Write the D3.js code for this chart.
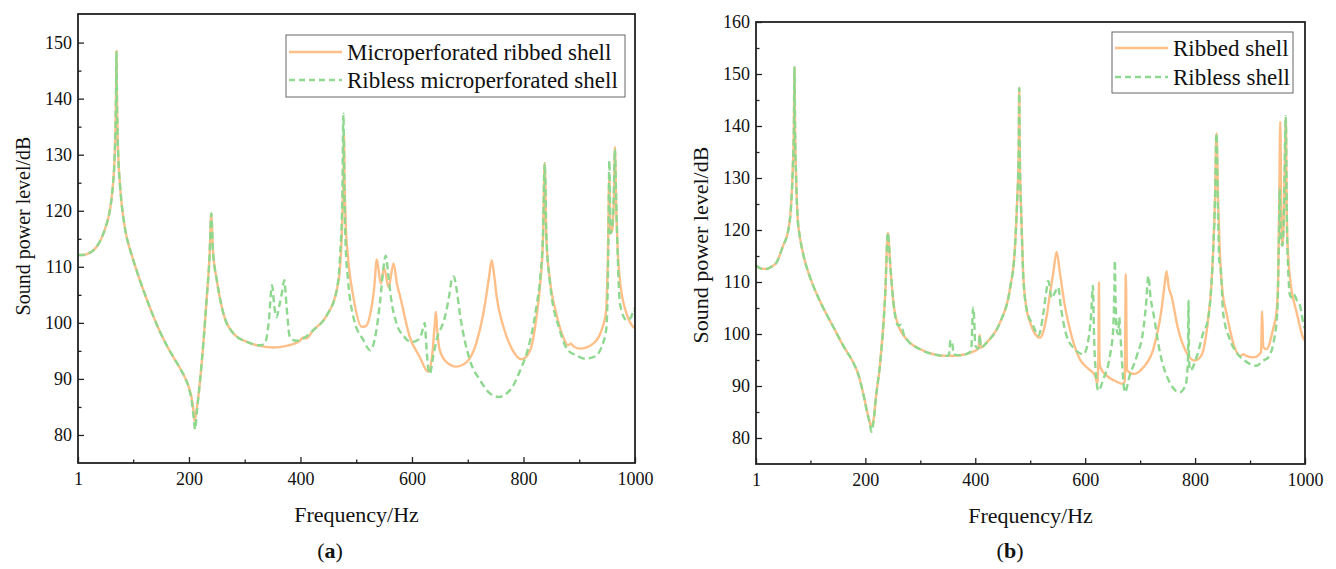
<!DOCTYPE html>
<html>
<head>
<meta charset="utf-8">
<script src="https://cdn.jsdelivr.net/npm/d3@7"></script>
<style>
    body { margin: 0; background: #fff; }
    svg text { font-family: "Liberation Serif", "Times New Roman", serif; fill: #111; }
</style>
</head>
<body>
<svg id="chart" width="1336" height="569"></svg>
<script>
// [frequency Hz, sound power level dB]

// (a) microperforated ribbed shell
const ribbedA = [
    [1,112.1],[10,112.1],[20,112.4],[28,112.9],[36,113.8],[44,115.3],[50,116.9],[56,119],[61,122],[64,125],
    [66.5,129],[68.3,135],[69.3,141],[70,148.5],[70.7,141],[71.7,135],[73.5,129],[76,125],[79,121.5],[83,118.3],
    [88,115.4],[94,113.2],[103,110.3],[112,107.6],[124,104.3],[136,101.2],[148,98.4],[160,96],[172,93.9],[184,91.9],
    [194,90],[200,88.5],[205,86.5],[208,84.5],[210,82.5],[213,84],[220,89.8],[232,104.6],[237,112],[240,119.5],
    [243,113],[250,107.6],[262,101.6],[280,98.1],[304,96.6],[327,95.9],[351,95.6],[375,95.9],[399,96.8],[405,97.4],
    [410,97.2],[423,98.7],[447,101.3],[465,105.8],[471,110],[475,118],[477,126],[478,134],[479,126],[481,118],
    [485,112],[495,104.6],[510,99.3],[517,99.4],[525,101.5],[532,106],[537,111.3],[544,107],[550,109.8],[558,106.4],
    [567,110.6],[573,107],[579,104.6],[596,97.5],[614,93.9],[629,91.3],[636,94],[641,100],[643,102],[645,99],
    [650,95.1],[662,93],[679,92.2],[698,93],[716,96.6],[731,103.4],[738,108],[743,111.2],[748,108],[752,104.6],
    [764,99.3],[779,95.4],[797,93.5],[812,95.1],[824,101.6],[830,107],[835,115],[838,128.5],[841,115],[847,108],
    [859,101.6],[871,97.5],[880,96],[885,96.3],[890,95.8],[901,95.4],[925,96.3],[940,98.7],[948,102],[951,110],
    [954,126],[956,116],[959,116.5],[962,122],[964,131.4],[966,122],[969,113],[973,107.6],[985,101.6],[1000,99]
];
// (a) ribless microperforated shell
const riblessA = [
    [1,112.1],[10,112.1],[20,112.4],[28,112.9],[36,113.8],[44,115.3],[50,116.9],[56,119],[61,122],[64,125],
    [66.5,129],[68.3,135],[69.3,141],[70,148.5],[70.7,141],[71.7,135],[73.5,129],[76,125],[79,121.5],[83,118.3],
    [88,115.4],[94,113.2],[103,110.3],[112,107.6],[124,104.3],[136,101.2],[148,98.4],[160,96],[172,93.9],[184,91.9],
    [194,90],[200,88.3],[205,86],[208,83.5],[211,81],[214,84],[220,89.8],[232,104.6],[237,112],[240,119.5],
    [243,113],[250,107.6],[262,101.6],[280,98.1],[304,96.6],[327,96],[336,96.3],[343,100],[349,106.7],[353,103],
    [357,101],[362,103],[367,105.5],[371,107.6],[375,103],[381,97.5],[392,96.8],[405,97.2],[423,98.7],[447,101.3],
    [465,105.8],[471,112],[475,122],[477,137.3],[479,122],[481,114],[485,108],[495,101],[513,96.9],[525,95.1],
    [535,98],[543,104],[549,110],[553,112],[557,109],[563,104],[572,100],[586,97.5],[599,96.6],[610,96.9],
    [617,98],[623,100],[625,97],[629,92],[632,90.9],[638,94],[644,96.9],[659,101],[667,105],[671,107.6],
    [675,108.3],[680,106],[686,101.6],[704,93.3],[722,89.8],[740,87.4],[755,86.8],[776,88],[794,91.5],[809,95.7],
    [824,103.4],[830,108],[835,116],[838,128.5],[841,116],[847,107.6],[865,98.7],[880,95.1],[895,94.2],[910,93.6],
    [928,94],[940,95.7],[949,99.3],[952,112],[954,129],[956,116],[959,117],[962,123],[964,131],[966,123],
    [969,112],[973,103.4],[985,100.5],[993,101],[998,102.5],[1000,102]
];

// (b) ribbed shell
const ribbedB = [
    [1,113.2],[10,112.6],[20,112.5],[30,113],[38,113.7],[50,116.9],[60,120.1],[65,125],[68,132],[70,140],
    [71,151.3],[72,140],[74,130],[77,122],[80,119.2],[84,116.8],[90,114],[97,111.6],[105,109.3],[123,105.1],
    [142,101.3],[160,97.7],[178,94.5],[187,92.3],[196,88.6],[203,85.2],[207,83.4],[210,82.4],[214,83],[220,88.5],
    [227,94.5],[236,107.3],[241,119.5],[245,113.7],[251,106.1],[260,101.6],[275,99],[299,97.1],[324,96.1],[348,95.8],
    [372,95.9],[396,96.6],[406,97.2],[408,99.8],[410,97.4],[421,98.4],[445,102.2],[463,108.6],[472,116.3],[476,125],
    [479,135],[480,147.3],[481,135],[484,122],[487,112],[493,105],[500,102.2],[509,100],[518,99.3],[524,100.5],
    [530,103.5],[537,108.5],[542,111.8],[548,115.8],[554,111.8],[563,105.4],[575,99.7],[590,95.2],[606,93.3],[618,92],
    [622,90.5],[624,95],[625,109.9],[626,95],[628,93.5],[639,92],[654,91],[669,90.4],[672,91],[674,111.5],
    [676,93],[688,92.3],[706,93.6],[724,97.1],[739,104.8],[744,109],[748,112.1],[752,109],[757,107.3],[769,101],
    [784,96.5],[799,94.9],[811,95.8],[823,102.2],[830,110],[833,116.3],[836,125],[839,138.6],[842,125],[845,115.7],
    [850,108],[857,104.1],[869,98.4],[882,95.8],[888,96.1],[893,95.8],[906,95.5],[920,96.5],[922,104.4],[924,97.5],
    [930,97.1],[942,101],[948,104.1],[951,110],[953,125],[955,140.8],[957,122],[959,117],[962,125],[965,141.5],
    [967,122],[970,114],[973,110.5],[985,104.1],[998,99],[1000,98.8]
];
// (b) ribless shell
const riblessB = [
    [1,113.2],[10,112.6],[20,112.5],[30,113],[38,113.7],[50,116.9],[60,120.1],[65,125],[68,132],[70,140],
    [71,151.3],[72,140],[74,130],[77,122],[80,119.2],[84,116.8],[90,114],[97,111.6],[105,109.3],[123,105.1],
    [142,101.3],[160,97.7],[178,94.5],[187,92.3],[196,88.6],[203,85],[208,82.8],[211,81.2],[214,82.5],[220,88.5],
    [227,94.5],[236,107.3],[241,119.5],[245,113.7],[251,106.1],[260,101.6],[265,101.8],[269,100.2],[275,99],[299,97.1],
    [324,96.1],[348,95.8],[352,96],[355,98.8],[358,98.2],[361,96.1],[372,95.9],[390,96.5],[393,97.5],[396,105.1],
    [398,103],[400,97.8],[406,97.2],[408,99.8],[410,97.4],[421,98.4],[445,102.2],[463,108.6],[472,116.3],[476,125],
    [479,135],[480,147.3],[481,135],[484,122],[487,112],[493,105],[505,101.7],[515,99.7],[524,104.1],[529,108],
    [533,110.2],[539,106.9],[545,108],[551,109],[556,105],[566,99.7],[581,97.1],[597,96.1],[606,99],[611,104],
    [614,109.3],[616,100],[619,93],[624,89.1],[633,91.3],[645,95.8],[651,101],[653,108],[654,114.1],[655,108],
    [657,101],[660,100],[662,103.2],[664,100],[668,93],[672,88.8],[681,92],[694,95.8],[706,101],[711,106],
    [715,111.2],[719,107],[724,104.1],[736,96.5],[751,91.3],[772,88.8],[783,90.3],[787,95],[788,106.4],[789,95],
    [791,93],[804,96],[815,100.3],[823,102.5],[830,110],[833,116.3],[836,125],[839,138.6],[842,122],[844,114],
    [846,113.4],[848,110],[851,104.1],[863,99],[875,96.5],[890,94.9],[912,93.9],[924,94.9],[933,95.5],[945,99.7],
    [950,105],[952,115],[954,128],[956,118],[959,117],[962,125],[965,141.9],[967,122],[970,111],[973,107.3],
    [977,107],[980,107.6],[985,106.5],[991,105.4],[998,101.6],[1000,101]
];

const xTicks = [1, 200, 400, 600, 800, 1000];
const xMinorTicks = [100, 300, 500, 700, 900];
const yTicksA = [80, 90, 100, 110, 120, 130, 140, 150];
const yMinorTicksA = [85, 95, 105, 115, 125, 135, 145];
const yTicksB = [80, 90, 100, 110, 120, 130, 140, 150, 160];
const yMinorTicksB = [85, 95, 105, 115, 125, 135, 145, 155];
const legendA = ["Microperforated ribbed shell", "Ribless microperforated shell"];
const legendB = ["Ribbed shell", "Ribless shell"];

const ORANGE = "#ffbf88";
const GREEN = "#8fd88f";

class SpectrumPanel {
    constructor(_config, _data) {
        this.config = _config;
        this.data = _data;
        this.initVis();
    }

    initVis() {
        let vis = this;
        const c = vis.config;
        const width = c.right - c.left,
            height = c.bottom - c.top;

        vis.xScale = d3.scaleLinear().domain([1, 1000]).range([0, width]);
        vis.yScale = d3.scaleLinear().domain(c.yDomain).range([height, 0]);

        vis.svg = d3.select("#chart");
        vis.chart = vis.svg.append("g")
            .attr("transform", `translate(${c.left},${c.top})`);

        vis.chart.append("clipPath")
            .attr("id", c.id + "-clip")
            .append("rect")
            .attr("width", width)
            .attr("height", height);

        // axes, ticks pointing inward
        vis.chart.append("g")
            .attr("transform", `translate(0,${height})`)
            .call(d3.axisBottom(vis.xScale).tickValues(xTicks).tickFormat(d3.format("d"))
                .tickSize(-6).tickSizeOuter(0).tickPadding(9));
        vis.chart.append("g")
            .attr("transform", `translate(0,${height})`)
            .call(d3.axisBottom(vis.xScale).tickValues(xMinorTicks).tickFormat("")
                .tickSize(-3.5).tickSizeOuter(0));

        vis.chart.append("g")
            .call(d3.axisLeft(vis.yScale).tickValues(c.yTicks)
                .tickSize(-6).tickSizeOuter(0).tickPadding(6));
        vis.chart.append("g")
            .call(d3.axisLeft(vis.yScale).tickValues(c.yMinor).tickFormat("")
                .tickSize(-3.5).tickSizeOuter(0));

        vis.chart.selectAll(".domain").remove();
        vis.chart.selectAll(".tick line").attr("stroke", "#222").attr("stroke-width", 1.3);
        vis.chart.selectAll(".tick text")
            .attr("font-family", null)
            .style("font-size", "18px");

        // Lines
        const line = d3.line()
            .x(d => vis.xScale(d[0]))
            .y(d => vis.yScale(d[1]))
            .curve(d3.curveMonotoneX);

        const plot = vis.chart.append("g").attr("clip-path", `url(#${c.id}-clip)`);
        plot.append("path")
            .datum(vis.data.solid)
            .attr("fill", "none")
            .attr("stroke", ORANGE)
            .attr("stroke-width", 2.4)
            .attr("stroke-linejoin", "round")
            .attr("d", line);
        plot.append("path")
            .datum(vis.data.dashed)
            .attr("fill", "none")
            .attr("stroke", GREEN)
            .attr("stroke-width", 2.4)
            .attr("stroke-dasharray", "7,4")
            .attr("d", line);

        // Frame
        vis.chart.append("rect")
            .attr("width", width)
            .attr("height", height)
            .attr("fill", "none")
            .attr("stroke", "#222")
            .attr("stroke-width", 1.8);

        // Legend
        const lg = c.legend;
        vis.svg.append("rect")
            .attr("x", lg.x).attr("y", lg.y)
            .attr("width", lg.w).attr("height", lg.h)
            .attr("fill", "#fff")
            .attr("stroke", "#666")
            .attr("stroke-width", 1);
        c.legendLabels.forEach((label, i) => {
            const yy = lg.y + lg.row0 + i * lg.rowGap;
            vis.svg.append("line")
                .attr("x1", lg.x + 3).attr("x2", lg.x + 56)
                .attr("y1", yy).attr("y2", yy)
                .attr("stroke", i === 0 ? ORANGE : GREEN)
                .attr("stroke-width", 2.4)
                .attr("stroke-dasharray", i === 0 ? null : "6,4");
            vis.svg.append("text")
                .attr("x", lg.x + 61)
                .attr("y", yy + 8)
                .style("font-size", lg.font + "px")
                .text(label);
        });

        // Axis titles
        vis.svg.append("text")
            .attr("x", c.left + width / 2)
            .attr("y", c.bottom + 59)
            .style("text-anchor", "middle")
            .style("font-size", "22px")
            .text("Frequency/Hz");

        vis.svg.append("text")
            .attr("transform", `translate(${c.yTitle.x},${c.yTitle.y}) rotate(-90)`)
            .style("text-anchor", "middle")
            .style("font-size", c.yTitle.font + "px")
            .text("Sound power level/dB");

        // Sub-figure tag
        const tag = vis.svg.append("text")
            .attr("x", c.tagX)
            .attr("y", 558)
            .style("text-anchor", "middle")
            .style("font-size", "22px");
        tag.append("tspan").text("(");
        tag.append("tspan").style("font-weight", "bold").text(c.tag);
        tag.append("tspan").text(")");
    }
}

new SpectrumPanel({
    id: "a", left: 78, right: 635, top: 14, bottom: 463,
    yDomain: [75, 155.1], yTicks: yTicksA, yMinor: yMinorTicksA,
    legend: {x: 286, y: 35, w: 339, h: 62, row0: 17, rowGap: 28, font: 23},
    legendLabels: legendA,
    yTitle: {x: 30, y: 226, font: 20},
    tagX: 330, tag: "a"
}, {solid: ribbedA, dashed: riblessA});

new SpectrumPanel({
    id: "b", left: 756, right: 1305, top: 22, bottom: 464,
    yDomain: [75, 160], yTicks: yTicksB, yMinor: yMinorTicksB,
    legend: {x: 1112, y: 32, w: 181, h: 61, row0: 16, rowGap: 29, font: 23},
    legendLabels: legendB,
    yTitle: {x: 708, y: 245, font: 22},
    tagX: 1010, tag: "b"
}, {solid: ribbedB, dashed: riblessB});
</script>
</body>
</html>
